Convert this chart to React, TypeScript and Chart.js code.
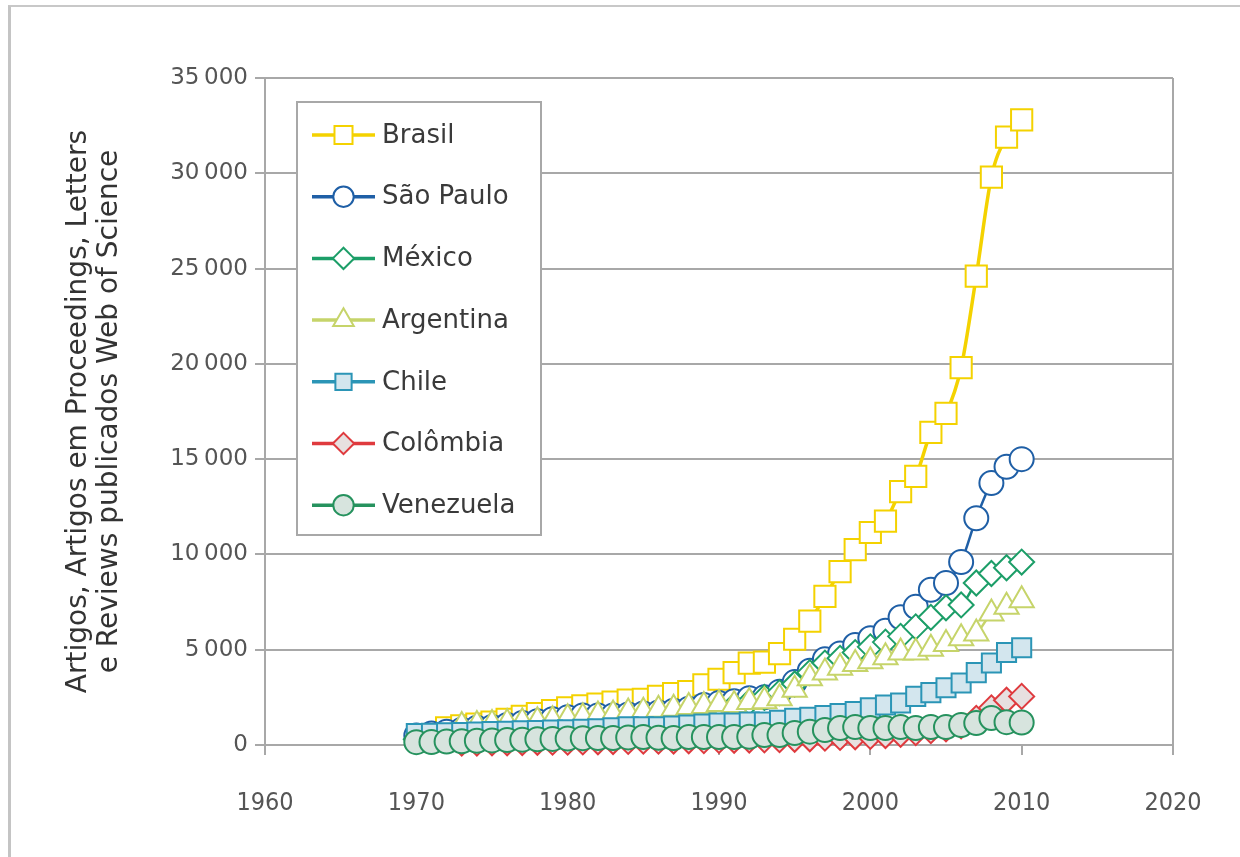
import React, { useEffect, useRef } from 'react';
import { Chart, registerables } from 'chart.js';

Chart.register(...registerables);

// ---------- data ----------
const years = [
  1970, 1971, 1972, 1973, 1974, 1975, 1976, 1977, 1978, 1979,
  1980, 1981, 1982, 1983, 1984, 1985, 1986, 1987, 1988, 1989,
  1990, 1991, 1992, 1993, 1994, 1995, 1996, 1997, 1998, 1999,
  2000, 2001, 2002, 2003, 2004, 2005, 2006, 2007, 2008, 2009, 2010,
];

const seriesNames = ['Brasil', 'São Paulo', 'México', 'Argentina', 'Chile', 'Colômbia', 'Venezuela'];

const brasil = [
  null, null, 900, 1000, 1100, 1200, 1350, 1500, 1650, 1800,
  1950, 2050, 2150, 2250, 2350, 2400, 2550, 2700, 2800, 3150,
  3450, 3800, 4300, 4350, 4800, 5550, 6500, 7800, 9100, 10250,
  11150, 11750, 13300, 14100, 16400, 17400, 19800, 24600, 29800, 31900, 32800,
];
const saoPaulo = [
  500, 600, 700, 800, 900, 950, 1050, 1150, 1250, 1350,
  1450, 1550, 1550, 1550, 1600, 1650, 1700, 1800, 1900, 2100,
  2200, 2300, 2450, 2500, 2800, 3300, 3900, 4500, 4800, 5250,
  5600, 6000, 6700, 7250, 8150, 8500, 9600, 11900, 13750, 14600, 15000,
];
const mexico = [
  300, 350, 400, 500, 550, 600, 700, 800, 850, 900,
  950, 1000, 1050, 1100, 1150, 1250, 1350, 1450, 1550, 1700,
  1850, 2050, 2250, 2500, 2750, 3200, 3800, 4300, 4550, 4850,
  5150, 5400, 5700, 6200, 6700, 7200, 7350, 8500, 9000, 9300, 9600,
];
const argentina = [
  null, null, null, 1000, 1050, 1100, 1150, 1200, 1250, 1300,
  1400, 1450, 1550, 1600, 1700, 1750, 1850, 1900, 2000, 2050,
  2150, 2100, 2250, 2300, 2450, 2900, 3500, 3800, 4050, 4250,
  4400, 4600, 4850, 4850, 5050, 5300, 5600, 5850, 6900, 7250, 7600,
];
const chile = [
  600, 620, 640, 660, 680, 700, 720, 740, 760, 780,
  800, 820, 850, 900, 950, 950, 950, 1000, 1050, 1100,
  1150, 1150, 1200, 1200, 1300, 1400, 1450, 1550, 1650, 1750,
  1950, 2100, 2200, 2550, 2750, 3000, 3250, 3800, 4300, 4850, 5100,
];
const colombia = [
  null, null, null, 100, 100, 120, 120, 130, 140, 150,
  150, 160, 170, 180, 190, 200, 200, 210, 220, 230,
  240, 250, 260, 270, 280, 300, 330, 360, 400, 430,
  450, 500, 560, 650, 750, 850, 1000, 1400, 1950, 2350, 2550,
];
const venezuela = [
  150, 160, 180, 200, 220, 240, 260, 280, 300, 320,
  340, 360, 370, 370, 400, 420, 380, 370, 420, 420,
  420, 420, 430, 520, 520, 630, 700, 790, 890, 940,
  890, 890, 940, 890, 940, 940, 1050, 1150, 1420, 1200, 1180,
];

const seriesValues = [brasil, saoPaulo, mexico, argentina, chile, colombia, venezuela];

const yAxisTitle = ['Artigos, Artigos em Proceedings, Letters', 'e Reviews publicados Web of Science'];
const xMin = 1960;
const xMax = 2020;
const xStep = 10;
const yMin = 0;
const yMax = 35000;
const yStep = 5000;

// ---------- styles ----------
type Style = { color: string; fill: string; shape: string; radius: number; lineWidth: number };
const seriesStyles: Style[] = [
  { color: '#F4D200', fill: '#FFFFFF', shape: 'rect', radius: 15, lineWidth: 3.5 },
  { color: '#1F5FA6', fill: '#FFFFFF', shape: 'circle', radius: 12, lineWidth: 2.5 },
  { color: '#1C9E68', fill: '#FFFFFF', shape: 'rectRot', radius: 12.5, lineWidth: 2.5 },
  { color: '#C6D46A', fill: '#FFFFFF', shape: 'triangle', radius: 14, lineWidth: 2.5 },
  { color: '#2B95B6', fill: '#D3E6EE', shape: 'rect', radius: 13.5, lineWidth: 2.5 },
  { color: '#DF3A3E', fill: '#E7E0E0', shape: 'rectRot', radius: 12.5, lineWidth: 2.5 },
  { color: '#26925E', fill: '#D7E4DE', shape: 'circle', radius: 12, lineWidth: 2.5 },
];

function drawMarker(ctx: CanvasRenderingContext2D, shape: string, x: number, y: number, r: number) {
  ctx.beginPath();
  if (shape === 'circle') {
    ctx.arc(x, y, r, 0, Math.PI * 2);
  } else if (shape === 'rect') {
    const s = Math.SQRT1_2 * r;
    ctx.rect(x - s, y - s, 2 * s, 2 * s);
  } else if (shape === 'rectRot') {
    ctx.moveTo(x, y - r);
    ctx.lineTo(x + r, y);
    ctx.lineTo(x, y + r);
    ctx.lineTo(x - r, y);
    ctx.closePath();
  } else if (shape === 'triangle') {
    let a = 0;
    ctx.moveTo(x + Math.sin(a) * r, y - Math.cos(a) * r);
    a += (2 * Math.PI) / 3;
    ctx.lineTo(x + Math.sin(a) * r, y - Math.cos(a) * r);
    a += (2 * Math.PI) / 3;
    ctx.lineTo(x + Math.sin(a) * r, y - Math.cos(a) * r);
    ctx.closePath();
  }
  ctx.fill();
  ctx.stroke();
}

const boxLegend = {
  id: 'boxLegend',
  afterDatasetsDraw(chart: any) {
    const { ctx, chartArea } = chart;
    const bx = chartArea.left + 32;
    const by = chartArea.top + 24;
    const bw = 244;
    const bh = 433;
    ctx.save();
    ctx.fillStyle = '#FFFFFF';
    ctx.fillRect(bx, by, bw, bh);
    ctx.strokeStyle = '#A8A8A8';
    ctx.lineWidth = 2;
    ctx.strokeRect(bx, by, bw, bh);
    seriesNames.forEach((name, i) => {
      const st = seriesStyles[i];
      const y = by + 33 + i * 61.7;
      ctx.strokeStyle = st.color;
      ctx.lineWidth = 3.5;
      ctx.beginPath();
      ctx.moveTo(bx + 15, y);
      ctx.lineTo(bx + 78, y);
      ctx.stroke();
      ctx.fillStyle = st.fill;
      ctx.lineWidth = 2;
      drawMarker(ctx, st.shape, bx + 46.5, y, st.radius * 0.85);
      ctx.fillStyle = '#3A3A3A';
      ctx.font = '26px "DejaVu Sans"';
      ctx.textAlign = 'left';
      ctx.textBaseline = 'middle';
      ctx.fillText(name, bx + 85, y + 1);
    });
    ctx.restore();
  },
};

function formatThousands(v: number) {
  return String(v).replace(/\B(?=(\d{3})+(?!\d))/g, '\u2009');
}

export default function App() {
  const canvasRef = useRef<HTMLCanvasElement | null>(null);

  useEffect(() => {
    const canvas = canvasRef.current;
    if (!canvas) return;
    const datasets = seriesNames.map((name, i) => {
      const st = seriesStyles[i];
      const vals = seriesValues[i];
      const pts = years
        .map((yr, k) => ({ x: yr, y: vals[k] }))
        .filter((p) => p.y !== null && p.y !== undefined);
      return {
        label: name,
        data: pts,
        borderColor: st.color,
        backgroundColor: st.fill,
        borderWidth: st.lineWidth,
        pointStyle: st.shape,
        pointRadius: st.radius,
        pointBorderWidth: 2,
        pointBorderColor: st.color,
        pointBackgroundColor: st.fill,
        cubicInterpolationMode: 'monotone',
        clip: false,
        order: seriesNames.length - 1 - i,
      };
    });

    const chart = new Chart(canvas, {
      type: 'line',
      data: { datasets } as any,
      plugins: [boxLegend],
      options: {
        responsive: false,
        maintainAspectRatio: false,
        animation: false,
        devicePixelRatio: 1,
        layout: { padding: { left: 0, top: 78, right: 67, bottom: 0 } },
        plugins: { legend: { display: false }, tooltip: { enabled: false } },
        scales: {
          x: {
            type: 'linear',
            min: xMin,
            max: xMax,
            afterFit: (s: any) => {
              s.height = 112;
            },
            ticks: {
              stepSize: xStep,
              color: '#555555',
              padding: 33,
              font: { family: '"DejaVu Sans Condensed", "DejaVu Sans"', size: 25 },
              callback: (v: any) => String(v),
            },
            grid: {
              color: (c: any) =>
                c.tick && (c.tick.value === xMin || c.tick.value === xMax) ? '#A8A8A8' : 'rgba(0,0,0,0)',
              lineWidth: 2,
              drawTicks: true,
              tickLength: 10,
              tickColor: '#A8A8A8',
              tickWidth: 2,
            },
            border: { display: true, color: '#A8A8A8', width: 2 },
          },
          y: {
            type: 'linear',
            min: yMin,
            max: yMax,
            afterFit: (s: any) => {
              s.width = 265;
            },
            ticks: {
              stepSize: yStep,
              color: '#555555',
              padding: 7,
              font: { family: '"DejaVu Sans"', size: 23 },
              callback: (v: any) => formatThousands(Number(v)),
            },
            grid: {
              color: '#A8A8A8',
              lineWidth: 2,
              drawTicks: true,
              tickLength: 10,
              tickColor: '#A8A8A8',
              tickWidth: 2,
            },
            border: { display: true, color: '#A8A8A8', width: 2 },
            title: {
              display: true,
              text: yAxisTitle,
              color: '#333333',
              font: { family: '"DejaVu Sans"', size: 28, lineHeight: 1.08 },
              padding: { top: 64, bottom: 0 },
            },
          },
        },
      } as any,
    });
    return () => chart.destroy();
  }, []);

  return (
    <div
      style={{
        position: 'fixed',
        left: 0,
        top: 0,
        width: 1240,
        height: 857,
        background: '#FFFFFF',
        overflow: 'hidden',
      }}
    >
      <div
        style={{
          position: 'absolute',
          left: 8,
          top: 5,
          width: 1260,
          height: 870,
          borderLeft: '3px solid #C4C4C4',
          borderTop: '2px solid #C8C8C8',
        }}
      />
      <canvas
        ref={canvasRef}
        width={1240}
        height={857}
        style={{ position: 'absolute', left: 0, top: 0, display: 'block' }}
      />
    </div>
  );
}
